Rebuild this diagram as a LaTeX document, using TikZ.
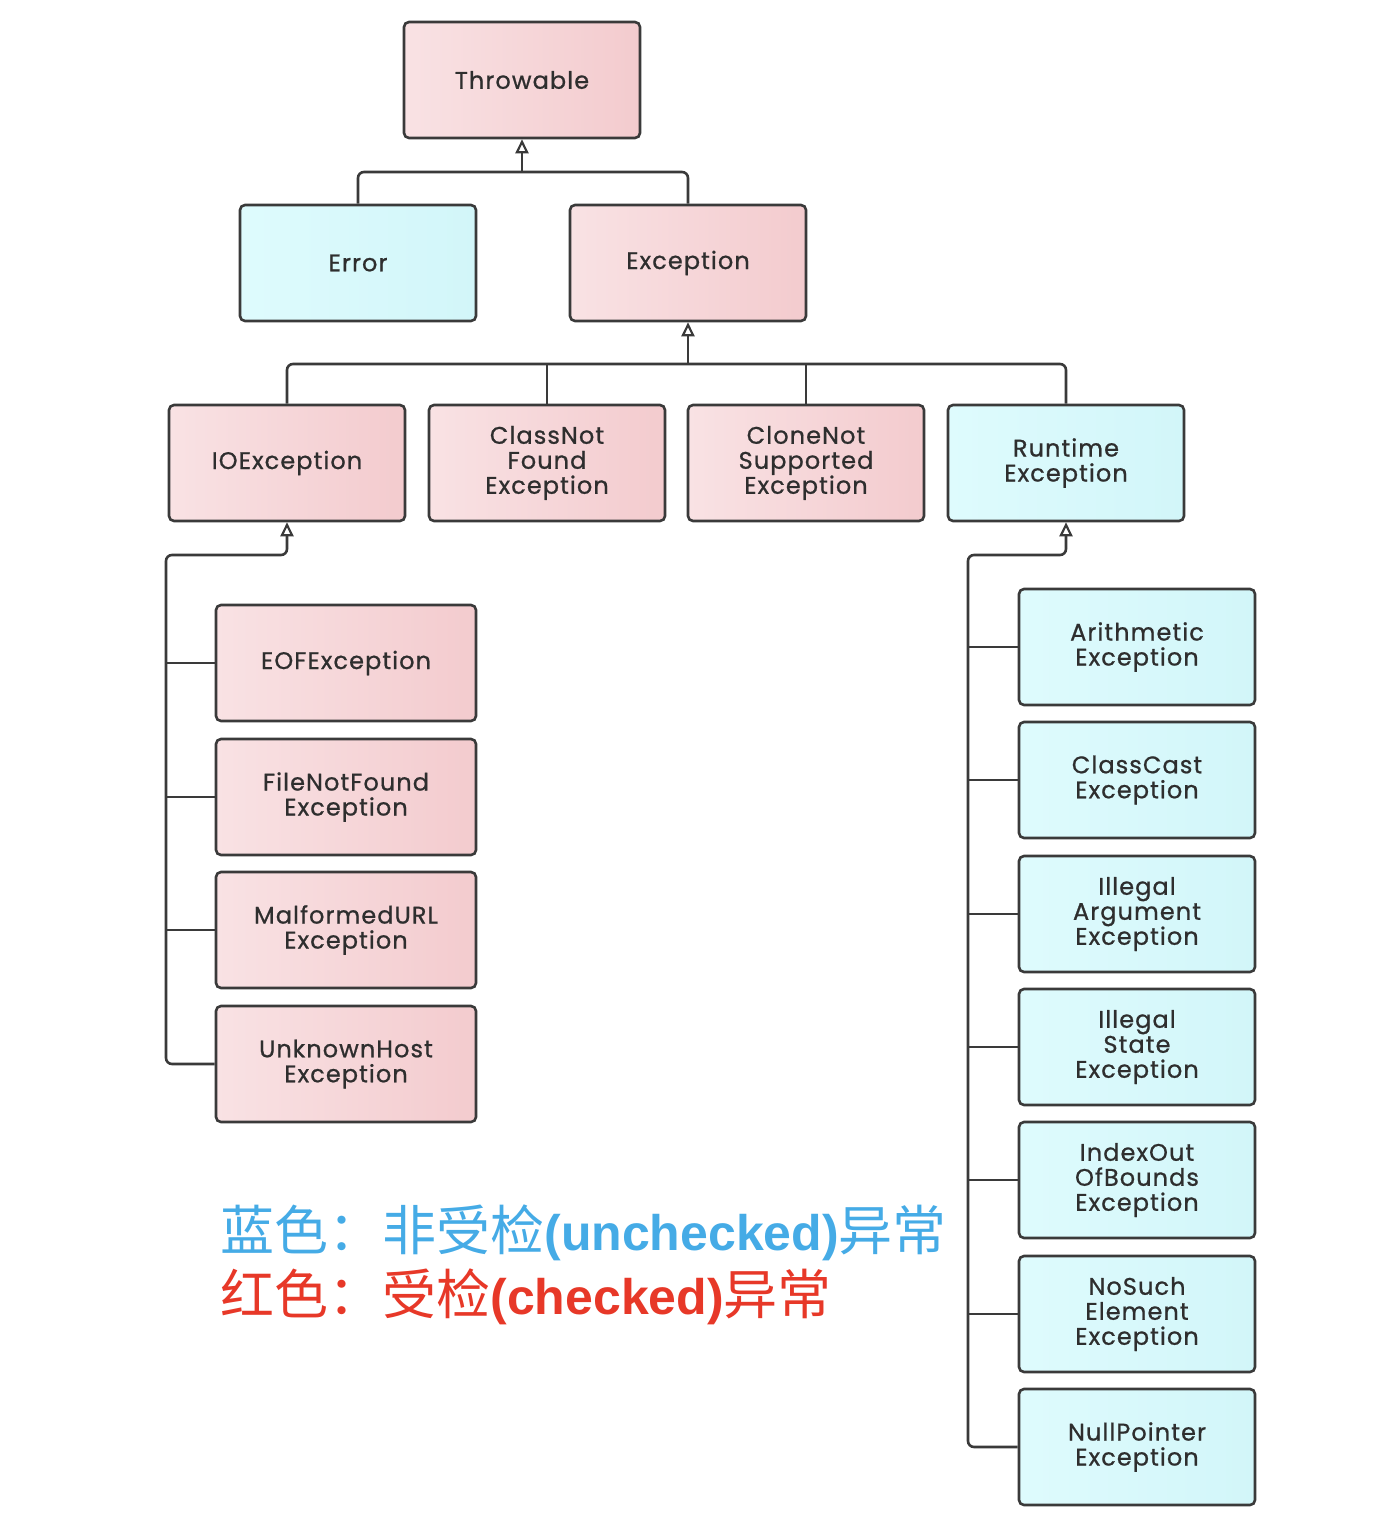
\documentclass[tikz,border=0pt]{standalone}
\usepackage{fontspec}
\usepackage{tikz}
\usepackage{xcolor}
\usetikzlibrary{arrows.meta,positioning,calc}
\setmainfont{Poppins}[LetterSpace=4.5, FakeBold=0.8]
\newfontfamily\cjk{Noto Sans CJK SC}
\newfontfamily\latb{Liberation Sans}
\definecolor{PinkL}{HTML}{F9E2E4}
\definecolor{PinkR}{HTML}{F3CBCE}
\definecolor{CyanL}{HTML}{DEFBFD}
\definecolor{CyanR}{HTML}{D2F6F9}
\definecolor{Edge}{HTML}{3A3A3A}
\definecolor{Ink}{HTML}{2E2E2E}
\definecolor{LegBlue}{HTML}{45ABE6}
\definecolor{LegRed}{HTML}{E73828}
\tikzset{
    every node/.style={font=\fontsize{12}{12.5}\selectfont, text=Ink},
    exbox/.style={
        draw=Edge, line width=1.3pt, rounded corners=2.5pt,
        minimum width=118pt, minimum height=58pt,
        align=center, inner sep=2pt
    },
    chkbox/.style={exbox, left color=PinkL, right color=PinkR},
    unchkbox/.style={exbox, left color=CyanL, right color=CyanR},
    conn/.style={draw=Edge, line width=1.3pt, rounded corners=3pt},
    inh/.style={conn, -{Triangle[open, length=7pt, width=6.5pt, line width=1.1pt]}},
    legend/.style={anchor=base west, inner sep=0pt, font=\cjk\fontsize{27}{27}\selectfont},
}
\begin{document}
\begin{tikzpicture}[x=0.5pt,y=-0.5pt]
    \useasboundingbox (0,0) rectangle (1394,1530);

    % Root and first level
    \node[chkbox] (thr) at (522,80) {Throwable};
    \node[unchkbox] (err) at (358,263) {Error};
    \node[chkbox] (exc) at (688,263) {Exception};

    % Second level
    \node[chkbox] (io) at (287,463) {IOException};
    \node[chkbox] (cnf) at (547,463) {ClassNot\\Found\\Exception};
    \node[chkbox] (cns) at (806,463) {CloneNot\\Supported\\Exception};
    \node[unchkbox] (rt) at (1066,463) {Runtime\\Exception};

    % IOException subclasses
    \node[chkbox, minimum width=130pt] (eof) at (346,663) {EOFException};
    \node[chkbox, minimum width=130pt] (fnf) at (346,797) {FileNotFound\\Exception};
    \node[chkbox, minimum width=130pt] (mal) at (346,930) {MalformedURL\\Exception};
    \node[chkbox, minimum width=130pt] (unk) at (346,1064) {UnknownHost\\Exception};

    % RuntimeException subclasses
    \node[unchkbox] (ari) at (1137,647) {Arithmetic\\Exception};
    \node[unchkbox] (ccs) at (1137,780) {ClassCast\\Exception};
    \node[unchkbox] (iae) at (1137,914) {Illegal\\Argument\\Exception};
    \node[unchkbox] (ise) at (1137,1047) {Illegal\\State\\Exception};
    \node[unchkbox] (ioob) at (1137,1180) {IndexOut\\OfBounds\\Exception};
    \node[unchkbox] (nse) at (1137,1314) {NoSuch\\Element\\Exception};
    \node[unchkbox] (npe) at (1137,1447) {NullPointer\\Exception};

    % Bus points
    \coordinate (thrBus) at (522,172);
    \coordinate (excBus) at (688,364);
    \coordinate (ioBus) at (166,555);
    \coordinate (rtBus) at (968,555);

    % Throwable links
    \draw[conn] (err.north) |- (thrBus) -| (exc.north);
    \draw[inh] (thrBus) -- (thr.south);

    % Exception links
    \draw[conn] (io.north) |- (excBus) -| (rt.north);
    \draw[conn] (cnf.north) -- (cnf.north |- excBus);
    \draw[conn] (cns.north) -- (cns.north |- excBus);
    \draw[inh] (excBus) -- (exc.south);

    % IOException links
    \draw[inh] (unk.west) -| (ioBus) -| (io.south);
    \foreach \n in {eof,fnf,mal}
        \draw[conn] (\n.west) -- (\n.west -| ioBus);

    % RuntimeException links
    \draw[inh] (npe.west) -| (rtBus) -| (rt.south);
    \foreach \n in {ari,ccs,iae,ise,ioob,nse}
        \draw[conn] (\n.west) -- (\n.west -| rtBus);

    % Legend
    \node[legend, text=LegBlue] (legU) at (220,1250)
        {蓝色：非受检{\latb\bfseries\fontsize{25}{25}\selectfont (unchecked)}异常};
    \node[legend, text=LegRed] (legC) at (220,1314)
        {红色：受检{\latb\bfseries\fontsize{25}{25}\selectfont (checked)}异常};
\end{tikzpicture}
\end{document}
